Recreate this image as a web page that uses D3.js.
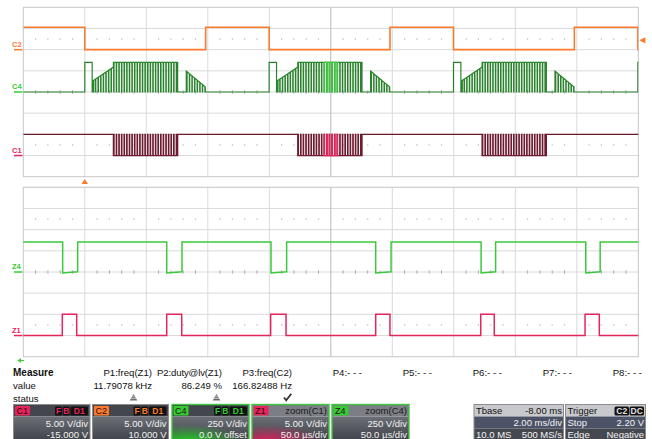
<!DOCTYPE html>
<html><head><meta charset="utf-8">
<script src="https://cdn.jsdelivr.net/npm/d3@7/dist/d3.min.js"></script>
<style>
html,body{margin:0;padding:0;background:#fff;}
svg{display:block;font-family:"Liberation Sans",Arial,sans-serif;}
</style>
</head><body>
<svg id="c" width="652" height="439"></svg>
<script>
// ---------------- DATA ----------------
// C2 (orange) step points: [time ms, volts]
const c2Steps = [[-2,5.3],[0,0],[3.93,5.3],[5.995,0],[9.925,5.3],[11.99,0],[15.92,5.3],[17.985,0],[18,0]];
// start of each switching cycle (ms) = C2 falling edges
const cycleStarts = [0, 5.995, 11.99, 17.985];
// C4 (dark green) per-cycle profile, times relative to cycle start (ms), volts
const c4LeadWindow = [0, 0.24];
const c4HighVolts = 350;
const c4RampUpWindow = [0.26, 0.93];
const c4RampUpVolts = [130, 294];
const c4RampUpPulses = [0.275, 0.345, 0.430, 0.515, 0.600, 0.684, 0.769, 0.854];
const burstWindow = [0.93, 3.02];
const burstPulses = [0.939,1.024,1.108,1.193,1.278,1.363,1.448,1.532,1.617,1.702,1.787,1.872,1.956,
                     2.042,2.127,2.212,2.297,2.381,2.466,2.551,2.636,2.721,2.805,2.890,2.975];
const c4RampDownWindow = [3.30, 3.92];
const c4RampDownVolts = [247, 60];
const c4RampDownPulses = [3.314, 3.399, 3.483, 3.568, 3.653, 3.738, 3.822, 3.907];
const pulseWidthMs = 0.012;
// C1 (maroon) levels
const c1HighVolts = 5.0;
// zoom window on main timebase (ms)
const zoomWindow = [7.75, 8.25];
// Z1 / Z4 edges (µs, relative to zoom centre)
const z1Rise = [-218.3,-133.4,-48.9,36.5,121.9,206.7];
const z1Fall = [-206.6,-121.2,-36.4,48.1,132.9,218.3];
const z1HighVolts = 5.0;
const z4Fall = [-218.0,-133.4,-48.6,36.5,122.2,207.3];
const z4Rise = [-205.8,-121.0,-35.9,49.0,134.0,219.0];
const z4HighVolts = 355;
const z4LowVolts = [-12, 2];
// measurement table
const measureNames = ["P1:freq(Z1)","P2:duty@lv(Z1)","P3:freq(C2)","P4:- - -","P5:- - -","P6:- - -","P7:- - -","P8:- - -"];
const measureValues = ["11.79078 kHz","86.249 %","166.82488 Hz","","","","",""];
const measureStatus = ["warn","warn","ok","","","","",""];
// channel descriptor boxes
const boxTags  = ["C1","C2","C4","Z1","Z4"];
const boxHead  = ["","","","zoom(C1)","zoom(C4)"];
const boxLine1 = ["5.00 V/div","5.00 V/div","250 V/div","5.00 V/div","250 V/div"];
const boxLine2 = ["-15.000 V","10.000 V","0.0 V offset","50.0 µs/div","50.0 µs/div"];
const tbaseTexts = ["Tbase","-8.00 ms","2.00 ms/div","10.0 MS","500 MS/s"];
const trigTexts = ["Trigger","C2","DC","Stop","2.20 V","Edge","Negative"];

// ---------------- LAYOUT ----------------
const svg = d3.select("#c");
const X0 = 23.3, X1 = 638.3;
const TOP = [7.3, 176.7], BOT = [187.3, 356.7];
const divX = d3.scaleLinear().domain([0,10]).range([X0,X1]);
const divYT = d3.scaleLinear().domain([0,8]).range(TOP);
const divYB = d3.scaleLinear().domain([0,8]).range(BOT);

const tx = d3.scaleLinear().domain([-2,18]).range([X0,X1]);
const tz = d3.scaleLinear().domain([-250,250]).range([X0,X1]);
const yC2 = d3.scaleLinear().domain([10,-30]).range(TOP);
const yC4 = d3.scaleLinear().domain([1000,-1000]).range(TOP);
const yC1 = d3.scaleLinear().domain([35,-5]).range(TOP);
const yZ4 = d3.scaleLinear().domain([1000,-1000]).range(BOT);
const yZ1 = d3.scaleLinear().domain([35,-5]).range(BOT);

const COL = {c2:"#fb7a2c", c4:"#1f7d22", c1:"#6d1a2e", z4:"#3cc83c", z1:"#e6245c", c4lbl:"#33cc33", c1lbl:"#e8245a"};

const defs = svg.append("defs");

function drawGrid(divY, id){
  const g = svg.append("g");
  g.append("rect").attr("x",X0).attr("y",divY(0)).attr("width",X1-X0).attr("height",divY(8)-divY(0))
    .attr("fill","#fff");
  d3.range(1,8).forEach(j=>{
    g.append("line").attr("x1",X0).attr("x2",X1).attr("y1",divY(j)).attr("y2",divY(j))
      .attr("stroke","#dadada").attr("stroke-width",1);
  });
  d3.range(1,10).forEach(i=>{
    g.append("line").attr("x1",divX(i)).attr("x2",divX(i)).attr("y1",divY(0)).attr("y2",divY(8))
      .attr("stroke", i===5 ? "#b8b8b8" : "#dadada").attr("stroke-width",1);
  });
  const sub = d3.range(1,50).map(k=>k*0.2).filter(v=>Math.abs(v-Math.round(v))>1e-6);
  [1.5,6.5].forEach(r=>{
    sub.forEach(v=>{
      g.append("rect").attr("x",divX(v)-0.6).attr("y",divY(r)-0.6).attr("width",1.2).attr("height",1.2).attr("fill","#b4b4b4");
    });
  });
  sub.forEach(v=>{
    g.append("line").attr("x1",divX(v)).attr("x2",divX(v)).attr("y1",divY(4)-1.8).attr("y2",divY(4)+1.8)
      .attr("stroke","#b0b0b0").attr("stroke-width",1);
  });
  g.append("rect").attr("x",X0).attr("y",divY(0)).attr("width",X1-X0).attr("height",divY(8)-divY(0))
    .attr("fill","none").attr("stroke","#c6c6c6").attr("stroke-width",1);
  defs.append("clipPath").attr("id",id).append("rect")
    .attr("x",X0).attr("y",divY(0)-2).attr("width",X1-X0).attr("height",divY(8)-divY(0)+4);
}
drawGrid(divYT,"clipTop");
drawGrid(divYB,"clipBot");
defs.append("clipPath").attr("id","clipZoom").append("rect")
  .attr("x",tx(zoomWindow[0])).attr("y",0).attr("width",tx(zoomWindow[1])-tx(zoomWindow[0])).attr("height",439);

// ---------------- TRACES ----------------
const lineT = y => d3.line().x(d=>tx(d[0])).y(d=>y(d[1]));
const lineZ = y => d3.line().x(d=>tz(d[0])).y(d=>y(d[1]));

// C2
const c2Pts = [];
c2Steps.forEach((p,i)=>{
  if(i>0) c2Pts.push([p[0], c2Steps[i-1][1]]);
  c2Pts.push(p);
});

// C4
const c4Pts = [[-2,0]];
const w = pulseWidthMs;
cycleStarts.forEach(t0=>{
  c4Pts.push([t0,0],[t0,c4HighVolts],[t0+c4LeadWindow[1],c4HighVolts],[t0+c4LeadWindow[1],0]);
  const ru = d3.scaleLinear().domain(c4RampUpWindow).range(c4RampUpVolts);
  c4Pts.push([t0+c4RampUpWindow[0],0],[t0+c4RampUpWindow[0],c4RampUpVolts[0]]);
  c4RampUpPulses.forEach(p=>{
    c4Pts.push([t0+p,ru(p)],[t0+p,0],[t0+p+w,0],[t0+p+w,ru(p+w)]);
  });
  c4Pts.push([t0+burstWindow[0],c4RampUpVolts[1]],[t0+burstWindow[0],c4HighVolts]);
  burstPulses.forEach(p=>{
    c4Pts.push([t0+p,c4HighVolts],[t0+p,0],[t0+p+w,0],[t0+p+w,c4HighVolts]);
  });
  c4Pts.push([t0+burstWindow[1],c4HighVolts],[t0+burstWindow[1],0]);
  const rd = d3.scaleLinear().domain(c4RampDownWindow).range(c4RampDownVolts);
  c4Pts.push([t0+c4RampDownWindow[0],0],[t0+c4RampDownWindow[0],c4RampDownVolts[0]]);
  c4RampDownPulses.forEach(p=>{
    c4Pts.push([t0+p,rd(p)],[t0+p,0],[t0+p+w,0],[t0+p+w,rd(p+w)]);
  });
  c4Pts.push([t0+c4RampDownWindow[1],c4RampDownVolts[1]],[t0+c4RampDownWindow[1],0]);
});
c4Pts.push([30,0]);

// C1
const c1Pts = [[-2,c1HighVolts]];
cycleStarts.forEach(t0=>{
  c1Pts.push([t0+burstWindow[0],c1HighVolts],[t0+burstWindow[0],0]);
  burstPulses.forEach(p=>{
    c1Pts.push([t0+p,0],[t0+p,c1HighVolts],[t0+p+w,c1HighVolts],[t0+p+w,0]);
  });
  c1Pts.push([t0+burstWindow[1],0],[t0+burstWindow[1],c1HighVolts]);
});
c1Pts.push([30,c1HighVolts]);

const gt = svg.append("g").attr("clip-path","url(#clipTop)");
gt.append("path").attr("d",lineT(yC2)(c2Pts)).attr("fill","none").attr("stroke",COL.c2).attr("stroke-width",1.6);
gt.append("path").attr("d",lineT(yC4)(c4Pts)).attr("fill","none").attr("stroke",COL.c4).attr("stroke-width",1.2).attr("stroke-opacity",0.95);
gt.append("path").attr("d",lineT(yC1)(c1Pts)).attr("fill","none").attr("stroke",COL.c1).attr("stroke-width",1.3);
const gzw = gt.append("g").attr("clip-path","url(#clipZoom)");
gzw.append("path").attr("d",lineT(yC4)(c4Pts)).attr("fill","none").attr("stroke",COL.z4).attr("stroke-width",1.2);
gzw.append("path").attr("d",lineT(yC1)(c1Pts)).attr("fill","none").attr("stroke",COL.z1).attr("stroke-width",1.3);

// Z4
const z4Pts = [[-260,z4HighVolts]];
z4Fall.forEach((f,i)=>{
  z4Pts.push([f,z4HighVolts],[f,z4LowVolts[0]],[z4Rise[i],z4LowVolts[1]],[z4Rise[i],z4HighVolts]);
});
z4Pts.push([260,z4HighVolts]);
// Z1
const z1Pts = [[-260,0]];
z1Rise.forEach((r,i)=>{
  z1Pts.push([r,0],[r,z1HighVolts],[z1Fall[i],z1HighVolts],[z1Fall[i],0]);
});
z1Pts.push([260,0]);
const gb = svg.append("g").attr("clip-path","url(#clipBot)");
gb.append("path").attr("d",lineZ(yZ4)(z4Pts)).attr("fill","none").attr("stroke",COL.z4).attr("stroke-width",1.5);
gb.append("path").attr("d",lineZ(yZ1)(z1Pts)).attr("fill","none").attr("stroke",COL.z1).attr("stroke-width",1.5);

// ---------------- CHANNEL LABELS ----------------
function chanLabel(txt, color, y){
  svg.append("text").attr("x",12).attr("y",y-3).attr("font-size",7.5).attr("font-weight","bold")
    .attr("fill",color).text(txt);
  svg.append("line").attr("x1",14).attr("x2",22.5).attr("y1",y).attr("y2",y).attr("stroke",color).attr("stroke-width",1.5);
}
chanLabel("C2", COL.c2, yC2(0));
chanLabel("C4", COL.c4lbl, yC4(0));
chanLabel("C1", COL.c1lbl, yC1(0));
chanLabel("Z4", COL.c4lbl, yZ4(0));
chanLabel("Z1", COL.c1lbl, yZ1(0));

// trigger markers
const tX = tx(0);
svg.append("path").attr("d",`M${tX},179 L${tX+3.2},184 L${tX-3.2},184 Z`).attr("fill",COL.c2);
const tlY = yC2(2.2);
svg.append("path").attr("d",`M${X1+1},${tlY} L${X1+7},${tlY-3.2} L${X1+7},${tlY+3.2} Z`).attr("fill",COL.c2);
// zoom marker bottom-left
svg.append("path").attr("d","M17.5,360.5 L21,358 L21,363 Z").attr("fill","#3cc83c");
svg.append("line").attr("x1",20).attr("x2",24).attr("y1",360.5).attr("y2",360.5).attr("stroke","#3cc83c").attr("stroke-width",1.2);

// ---------------- MEASURE TABLE ----------------
const fs = 9.6;
svg.append("text").attr("x",13).attr("y",376).attr("font-size",10).attr("font-weight","bold").attr("fill","#111").text("Measure");
svg.append("text").attr("x",13).attr("y",389).attr("font-size",fs).attr("fill","#111").text("value");
svg.append("text").attr("x",13).attr("y",401.5).attr("font-size",fs).attr("fill","#111").text("status");
const colRight = d => 152 + 70*d;
measureNames.forEach((n,i)=>{
  svg.append("text").attr("x",colRight(i)).attr("y",376).attr("text-anchor","end").attr("font-size",fs)
    .attr("fill","#111").attr("textLength", i===1 ? 65 : null).text(n);
  if(measureValues[i]) svg.append("text").attr("x",colRight(i)).attr("y",389).attr("text-anchor","end").attr("font-size",fs).attr("fill","#111").text(measureValues[i]);
});
const statusX = [133.5, 216.5, 287.5];
measureStatus.forEach((s,i)=>{
  if(s==="warn"){
    const cx = statusX[i];
    const g = svg.append("g");
    g.append("path").attr("d",`M${cx},394 L${cx+3.8},400.5 L${cx-3.8},400.5 Z`).attr("fill","#6a6a6a");
    g.append("line").attr("x1",cx-2.4).attr("x2",cx+2.4).attr("y1",398.3).attr("y2",398.3).attr("stroke","#e8e8e8").attr("stroke-width",0.8);
    g.append("line").attr("x1",cx-1.2).attr("x2",cx+1.2).attr("y1",396.3).attr("y2",396.3).attr("stroke","#e8e8e8").attr("stroke-width",0.7);
  } else if(s==="ok"){
    const cx = statusX[i];
    svg.append("path").attr("d",`M${cx-3.5},397.5 L${cx-1.3},400.3 L${cx+3.8},393.8`).attr("fill","none").attr("stroke","#333").attr("stroke-width",1.8);
  }
});

// ---------------- CHANNEL BOXES ----------------
const BY = 404.5;
const boxX = [13.5, 92.5, 172, 252, 332];
const boxW = [76.5, 76, 77, 77, 77];
const boxTagCol = [COL.c1lbl, COL.c2, COL.c4lbl, COL.c1lbl, COL.c4lbl];
const boxBorder = ["#8c8c8c","#8c8c8c","#3cc83c","#3cc83c","#3cc83c"];
const boxGlow = [null, null, "#22dd22", "#ee2060", null];

const bodyGrad = defs.append("linearGradient").attr("id","bodyGrad").attr("x1",0).attr("y1",0).attr("x2",0).attr("y2",1);
bodyGrad.append("stop").attr("offset","0%").attr("stop-color","#6c6f76");
bodyGrad.append("stop").attr("offset","100%").attr("stop-color","#3f4248");
boxGlow.forEach((gc,i)=>{
  if(!gc) return;
  const rg = defs.append("radialGradient").attr("id","glow"+i).attr("cx","0.2").attr("cy","1.1").attr("r","0.75");
  rg.append("stop").attr("offset","0%").attr("stop-color",gc).attr("stop-opacity",1);
  rg.append("stop").attr("offset","100%").attr("stop-color",gc).attr("stop-opacity",0);
});

boxTags.forEach((tag,i)=>{
  const x = boxX[i], wd = boxW[i];
  const g = svg.append("g");
  const isZ = tag[0]==="Z";
  g.append("rect").attr("x",x).attr("y",BY).attr("width",wd).attr("height",12).attr("fill", isZ ? "#7b7e84" : "#44464d");
  g.append("rect").attr("x",x).attr("y",BY+12).attr("width",wd).attr("height",24).attr("fill","url(#bodyGrad)");
  if(boxGlow[i]) g.append("rect").attr("x",x).attr("y",BY+12).attr("width",wd).attr("height",24).attr("fill",`url(#glow${i})`);
  g.append("rect").attr("x",x).attr("y",BY).attr("width",wd).attr("height",40).attr("fill","none")
    .attr("stroke",boxBorder[i]).attr("stroke-width",boxBorder[i]==="#8c8c8c"?1:1.4);
  g.append("rect").attr("x",x+1.5).attr("y",BY+1.5).attr("width",15).attr("height",9.5).attr("rx",1).attr("fill",boxTagCol[i]);
  g.append("text").attr("x",x+3).attr("y",BY+9.8).attr("font-size",9).attr("fill","#2a0b12").text(tag);
  if(!isZ){
    const fl = [["F",x+wd-35,7],["B",x+wd-27.3,7],["D1",x+wd-19.5,17.5]];
    fl.forEach(f=>{
      g.append("rect").attr("x",f[1]).attr("y",BY+2).attr("width",f[2]).attr("height",9).attr("rx",1.2).attr("fill","#111");
      g.append("text").attr("x",f[1]+f[2]/2).attr("y",BY+9.6).attr("text-anchor","middle").attr("font-size",8.5)
        .attr("font-weight","bold").attr("fill",boxTagCol[i]).text(f[0]);
    });
  } else {
    g.append("text").attr("x",x+wd-2).attr("y",BY+9.8).attr("text-anchor","end").attr("font-size",9.5).attr("fill","#1a1a1a").text(boxHead[i]);
  }
  g.append("text").attr("x",x+wd-2).attr("y",BY+22).attr("text-anchor","end").attr("font-size",9.5).attr("fill","#f2f2f2").text(boxLine1[i]);
  g.append("text").attr("x",x+wd-2).attr("y",BY+33.5).attr("text-anchor","end").attr("font-size",9.5).attr("fill","#f2f2f2").text(boxLine2[i]);
});

// Tbase box
(function(){
  const x=474, wd=89.5, g=svg.append("g");
  g.append("rect").attr("x",x).attr("y",BY).attr("width",wd).attr("height",12).attr("fill","#c8c9cc");
  g.append("rect").attr("x",x).attr("y",BY+12).attr("width",wd).attr("height",12).attr("fill","#4d5367");
  g.append("rect").attr("x",x).attr("y",BY+24).attr("width",wd).attr("height",12).attr("fill","#45484f");
  g.append("rect").attr("x",x).attr("y",BY).attr("width",wd).attr("height",40).attr("fill","none").attr("stroke","#8c8c8c");
  g.append("text").attr("x",x+2).attr("y",BY+9.8).attr("font-size",9.5).attr("fill","#111").text(tbaseTexts[0]);
  g.append("text").attr("x",x+wd-1.5).attr("y",BY+9.8).attr("text-anchor","end").attr("font-size",9.5).attr("fill","#111").text(tbaseTexts[1]);
  g.append("text").attr("x",x+wd-1.5).attr("y",BY+21.8).attr("text-anchor","end").attr("font-size",9.5).attr("fill","#f2f2f2").text(tbaseTexts[2]);
  g.append("text").attr("x",x+2).attr("y",BY+33.5).attr("font-size",9.5).attr("fill","#f2f2f2").text(tbaseTexts[3]);
  g.append("text").attr("x",x+wd-1.5).attr("y",BY+33.5).attr("text-anchor","end").attr("font-size",9.5).attr("fill","#f2f2f2").text(tbaseTexts[4]);
})();
// Trigger box
(function(){
  const x=565.5, wd=80, g=svg.append("g");
  g.append("rect").attr("x",x).attr("y",BY).attr("width",wd).attr("height",12).attr("fill","#c8c9cc");
  g.append("rect").attr("x",x).attr("y",BY+12).attr("width",wd).attr("height",12).attr("fill","#4d5367");
  g.append("rect").attr("x",x).attr("y",BY+24).attr("width",wd).attr("height",12).attr("fill","#45484f");
  g.append("rect").attr("x",x).attr("y",BY).attr("width",wd).attr("height",40).attr("fill","none").attr("stroke","#8c8c8c");
  g.append("text").attr("x",x+2).attr("y",BY+9.8).attr("font-size",9.5).attr("fill","#111").text(trigTexts[0]);
  [[trigTexts[1],x+wd-31],[trigTexts[2],x+wd-16]].forEach(b=>{
    g.append("rect").attr("x",b[1]).attr("y",BY+2).attr("width",14.5).attr("height",9).attr("rx",1.5).attr("fill","#111");
    g.append("text").attr("x",b[1]+7.25).attr("y",BY+9.6).attr("text-anchor","middle").attr("font-size",8.5).attr("font-weight","bold").attr("fill","#e0e0e0").text(b[0]);
  });
  g.append("text").attr("x",x+2).attr("y",BY+21.8).attr("font-size",9.5).attr("fill","#f2f2f2").text(trigTexts[3]);
  g.append("text").attr("x",x+wd-1.5).attr("y",BY+21.8).attr("text-anchor","end").attr("font-size",9.5).attr("fill","#f2f2f2").text(trigTexts[4]);
  g.append("text").attr("x",x+2).attr("y",BY+33.5).attr("font-size",9.5).attr("fill","#f2f2f2").text(trigTexts[5]);
  g.append("text").attr("x",x+wd-1.5).attr("y",BY+33.5).attr("text-anchor","end").attr("font-size",9.5).attr("fill","#f2f2f2").text(trigTexts[6]);
})();
</script>
</body></html>
